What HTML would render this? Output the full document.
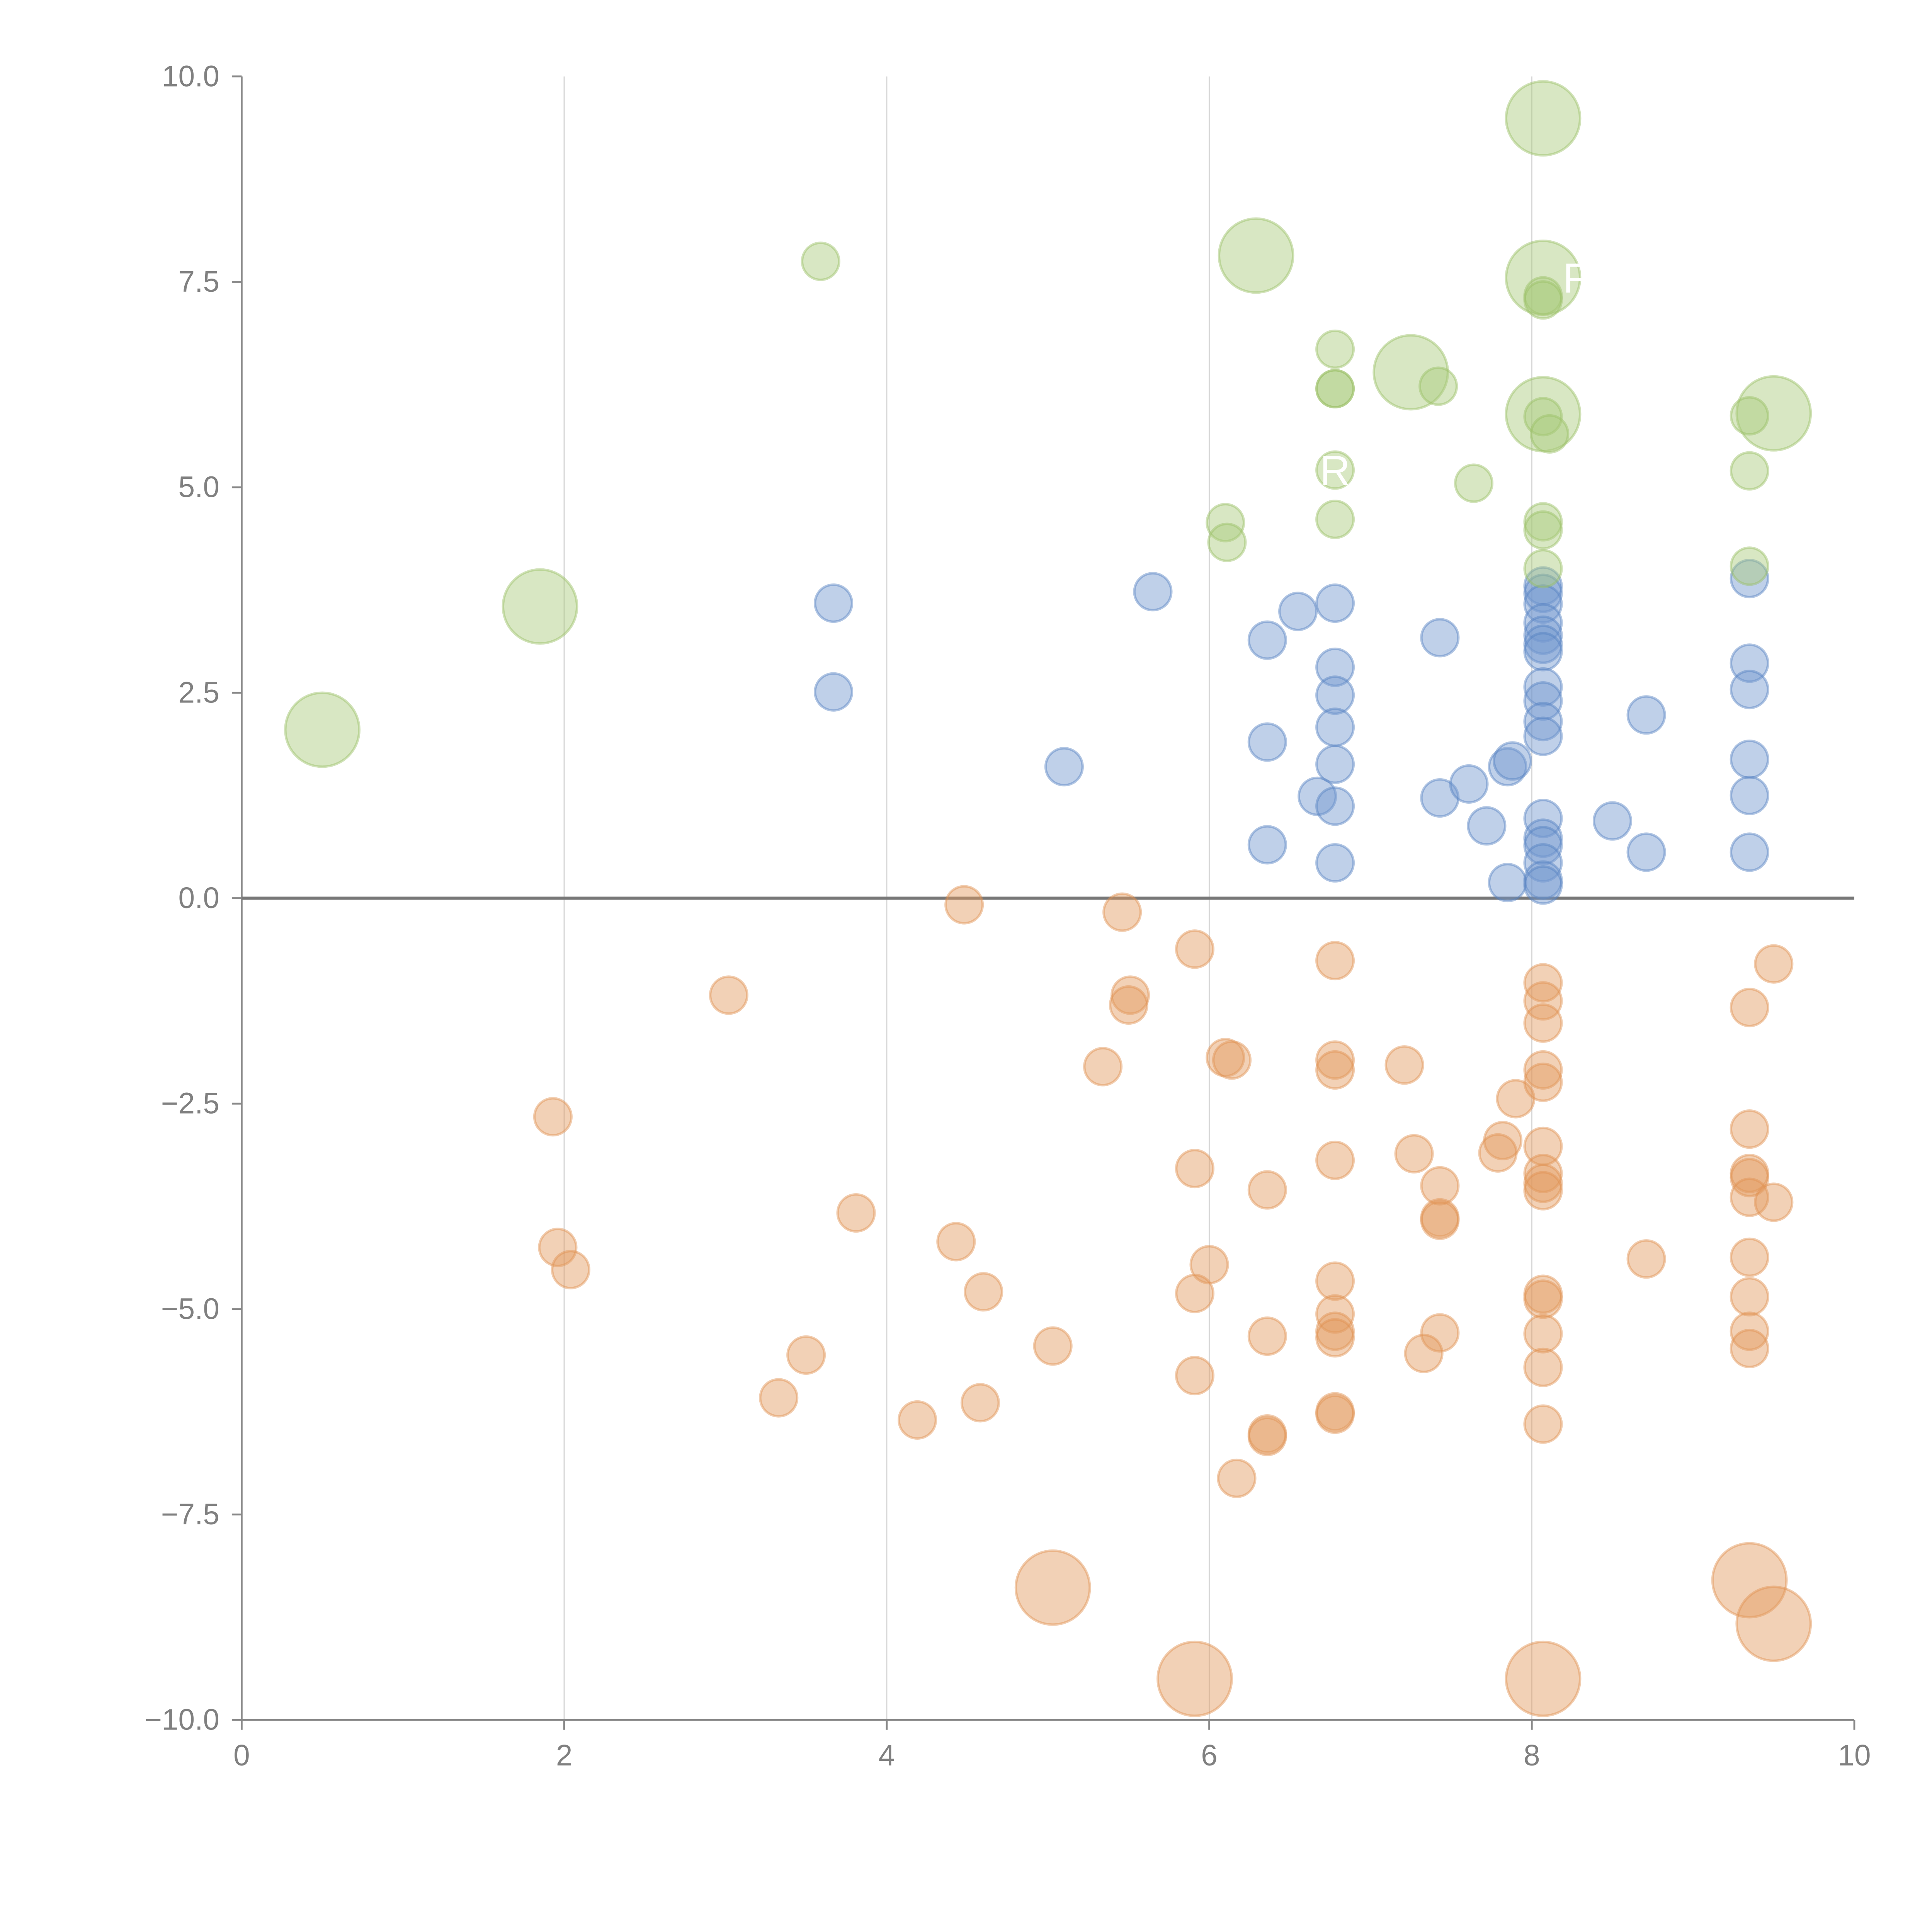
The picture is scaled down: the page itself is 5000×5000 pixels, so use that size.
<!DOCTYPE html>
<html><head><meta charset="utf-8"><style>
html,body{margin:0;padding:0;background:#fff;}
svg{display:block;}
text{font-family:"Liberation Sans",Arial,sans-serif;}
</style></head><body>
<svg id="chart" width="5000" height="5000" viewBox="0 0 1567 1567" xmlns="http://www.w3.org/2000/svg">
<g id="grid"></g>
<g id="axes"></g>
<g id="marks"></g>
</svg>
<script>
const xTicks=[0,2,4,6,8,10];
const yTicks=[10,7.5,5,2.5,0,-2.5,-5,-7.5,-10];
const yTickLabels=["10.0","7.5","5.0","2.5","0.0","\u22122.5","\u22125.0","\u22127.5","\u221210.0"];

const greenX=[3.59,6.29,8.07,8.07,8.07,8.07,6.78,6.78,6.78,7.25,7.42,8.07,8.07,8.11,9.5,9.35,9.35,6.78,7.64,6.78,6.1,6.11,8.07,8.07,8.07,9.35,1.85,0.5];
const greenY=[7.75,7.82,9.49,7.55,7.33,7.28,6.68,6.2,6.2,6.4,6.23,5.89,5.86,5.65,5.9,5.87,5.2,5.21,5.05,4.61,4.57,4.33,4.58,4.48,4.01,4.04,3.55,2.05];
const greenS=[1,2,2,2,1,1,1,1,1,2,1,2,1,1,2,1,1,1,1,1,1,1,1,1,1,1,2,2];

const blueX=[3.67,3.67,5.1,5.65,6.36,6.55,6.36,6.36,6.67,6.78,6.78,6.78,6.78,6.78,6.78,6.78,7.43,7.43,7.61,7.72,7.85,7.88,7.85,8.07,8.07,8.07,8.07,8.07,8.07,8.07,8.07,8.07,8.07,8.07,8.07,8.07,8.07,8.07,8.07,8.07,8.5,8.71,8.71,9.35,9.35,9.35,9.35,9.35,9.35];
const blueY=[3.59,2.51,1.6,3.73,3.14,3.49,1.9,0.65,1.24,3.59,2.81,2.47,2.08,1.63,1.12,0.43,3.17,1.22,1.39,0.88,1.6,1.67,0.19,3.8,3.71,3.58,3.35,3.2,3.09,3.0,2.57,2.4,2.15,1.97,0.97,0.73,0.64,0.43,0.22,0.16,0.94,2.23,0.56,3.89,2.86,2.54,1.69,1.25,0.56];

const orangeX=[4.48,5.46,5.91,3.02,5.51,5.5,5.34,6.1,6.14,6.78,6.78,6.78,7.21,1.93,7.9,7.82,7.79,7.27,6.78,5.91,6.36,7.43,7.43,7.43,3.81,4.43,1.96,2.04,6.0,5.91,4.6,6.78,6.78,6.78,6.78,6.36,7.43,7.33,5.03,3.5,5.91,3.33,4.58,4.19,6.78,6.78,6.36,6.36,6.17,8.07,8.07,8.07,8.07,8.07,8.07,8.07,8.07,8.07,8.07,8.07,8.07,8.07,8.07,9.5,9.35,9.35,9.35,9.35,9.35,9.5,8.71,9.35,9.35,9.35,9.35,5.03,5.91,8.07,9.35,9.5];
const orangeY=[-0.08,-0.17,-0.62,-1.18,-1.18,-1.3,-2.05,-1.94,-1.97,-0.76,-1.97,-2.09,-2.03,-2.66,-2.44,-2.95,-3.1,-3.11,-3.19,-3.29,-3.55,-3.5,-3.89,-3.92,-3.83,-4.18,-4.25,-4.52,-4.46,-4.81,-4.79,-4.66,-5.06,-5.27,-5.35,-5.33,-5.29,-5.54,-5.45,-5.56,-5.81,-6.08,-6.14,-6.35,-6.25,-6.28,-6.52,-6.55,-7.06,-1.03,-1.25,-1.52,-2.09,-2.24,-3.02,-3.35,-3.47,-3.56,-4.82,-4.88,-5.3,-5.71,-6.4,-0.8,-1.33,-2.81,-3.35,-3.4,-3.64,-3.7,-4.39,-4.37,-4.85,-5.27,-5.48,-8.39,-9.5,-9.5,-8.3,-8.83];
const orangeS=orangeX.map((_,i)=>i>=75?2:1);

const L=196,R=1504,T=62,B=1395;
function sx(v){return L+(v-0)/(10-0)*(R-L);}
function sy(v){return B-(v+10)/20*(B-T);}
const NS="http://www.w3.org/2000/svg";
function mk(tag,attrs,parent){const e=document.createElementNS(NS,tag);for(const k in attrs)e.setAttribute(k,attrs[k]);parent.appendChild(e);return e;}
const grid=document.getElementById('grid'),axes=document.getElementById('axes'),marks=document.getElementById('marks');

xTicks.forEach(t=>{
  if(t>0&&t<10){
    const g=mk('line',{x1:sx(t),x2:sx(t),y1:T,y2:B,stroke:'#d8d8d8','stroke-width':1},grid);
    
    
  }
  const tk=mk('line',{x1:sx(t),x2:sx(t),y1:B,y2:B+8,stroke:'#888','stroke-width':1.5},axes);
  
  
  const tx=mk('text',{x:sx(t),y:B+37,'text-anchor':'middle','font-size':24,fill:'#808080'},axes);
  tx.textContent=String(t);
  
  
});
yTicks.forEach((t,i)=>{
  const tk=mk('line',{x1:L-8,x2:L,y1:sy(t),y2:sy(t),stroke:'#888','stroke-width':1.5},axes);
  
  
  const tx=mk('text',{x:L-18,y:sy(t)+8,'text-anchor':'end','font-size':24,fill:'#808080'},axes);
  tx.textContent=yTickLabels[i];
  
  
});
const ya=mk('line',{x1:L,x2:L,y1:T,y2:B,stroke:'#888','stroke-width':1.5},axes);


const xa=mk('line',{x1:L,x2:R,y1:B,y2:B,stroke:'#888','stroke-width':1.5},axes);


const zl=mk('line',{x1:L,x2:R,y1:sy(0),y2:sy(0),stroke:'#777','stroke-width':2.5},axes);



function series(xs,ys,ss,fill,stroke,name){
  xs.forEach((x,i)=>{
    const s=ss?ss[i]:1;
    const c=mk('circle',{cx:sx(x),cy:sy(ys[i]),r:s===2?30:15,fill:fill,'fill-opacity':0.45,stroke:stroke,'stroke-opacity':0.45,'stroke-width':2},marks);
    
    
  });
}
series(orangeX,orangeY,orangeS,'#e39a5e','#e0904f','orange-bubble');
series(blueX,blueY,null,'#7297cf','#5580c2','blue-bubble');
series(greenX,greenY,greenS,'#a9c97a','#98bf64','green-bubble');

const lr=mk('text',{x:sx(6.78),y:sy(5.21)+12,'text-anchor':'middle','font-size':34,fill:'#fff'},marks);
lr.textContent='R';


const lp=mk('text',{x:sx(8.07)+16,y:sy(7.55)+12,'text-anchor':'start','font-size':34,fill:'#fff'},marks);
lp.textContent='P';


</script>
</body></html>
